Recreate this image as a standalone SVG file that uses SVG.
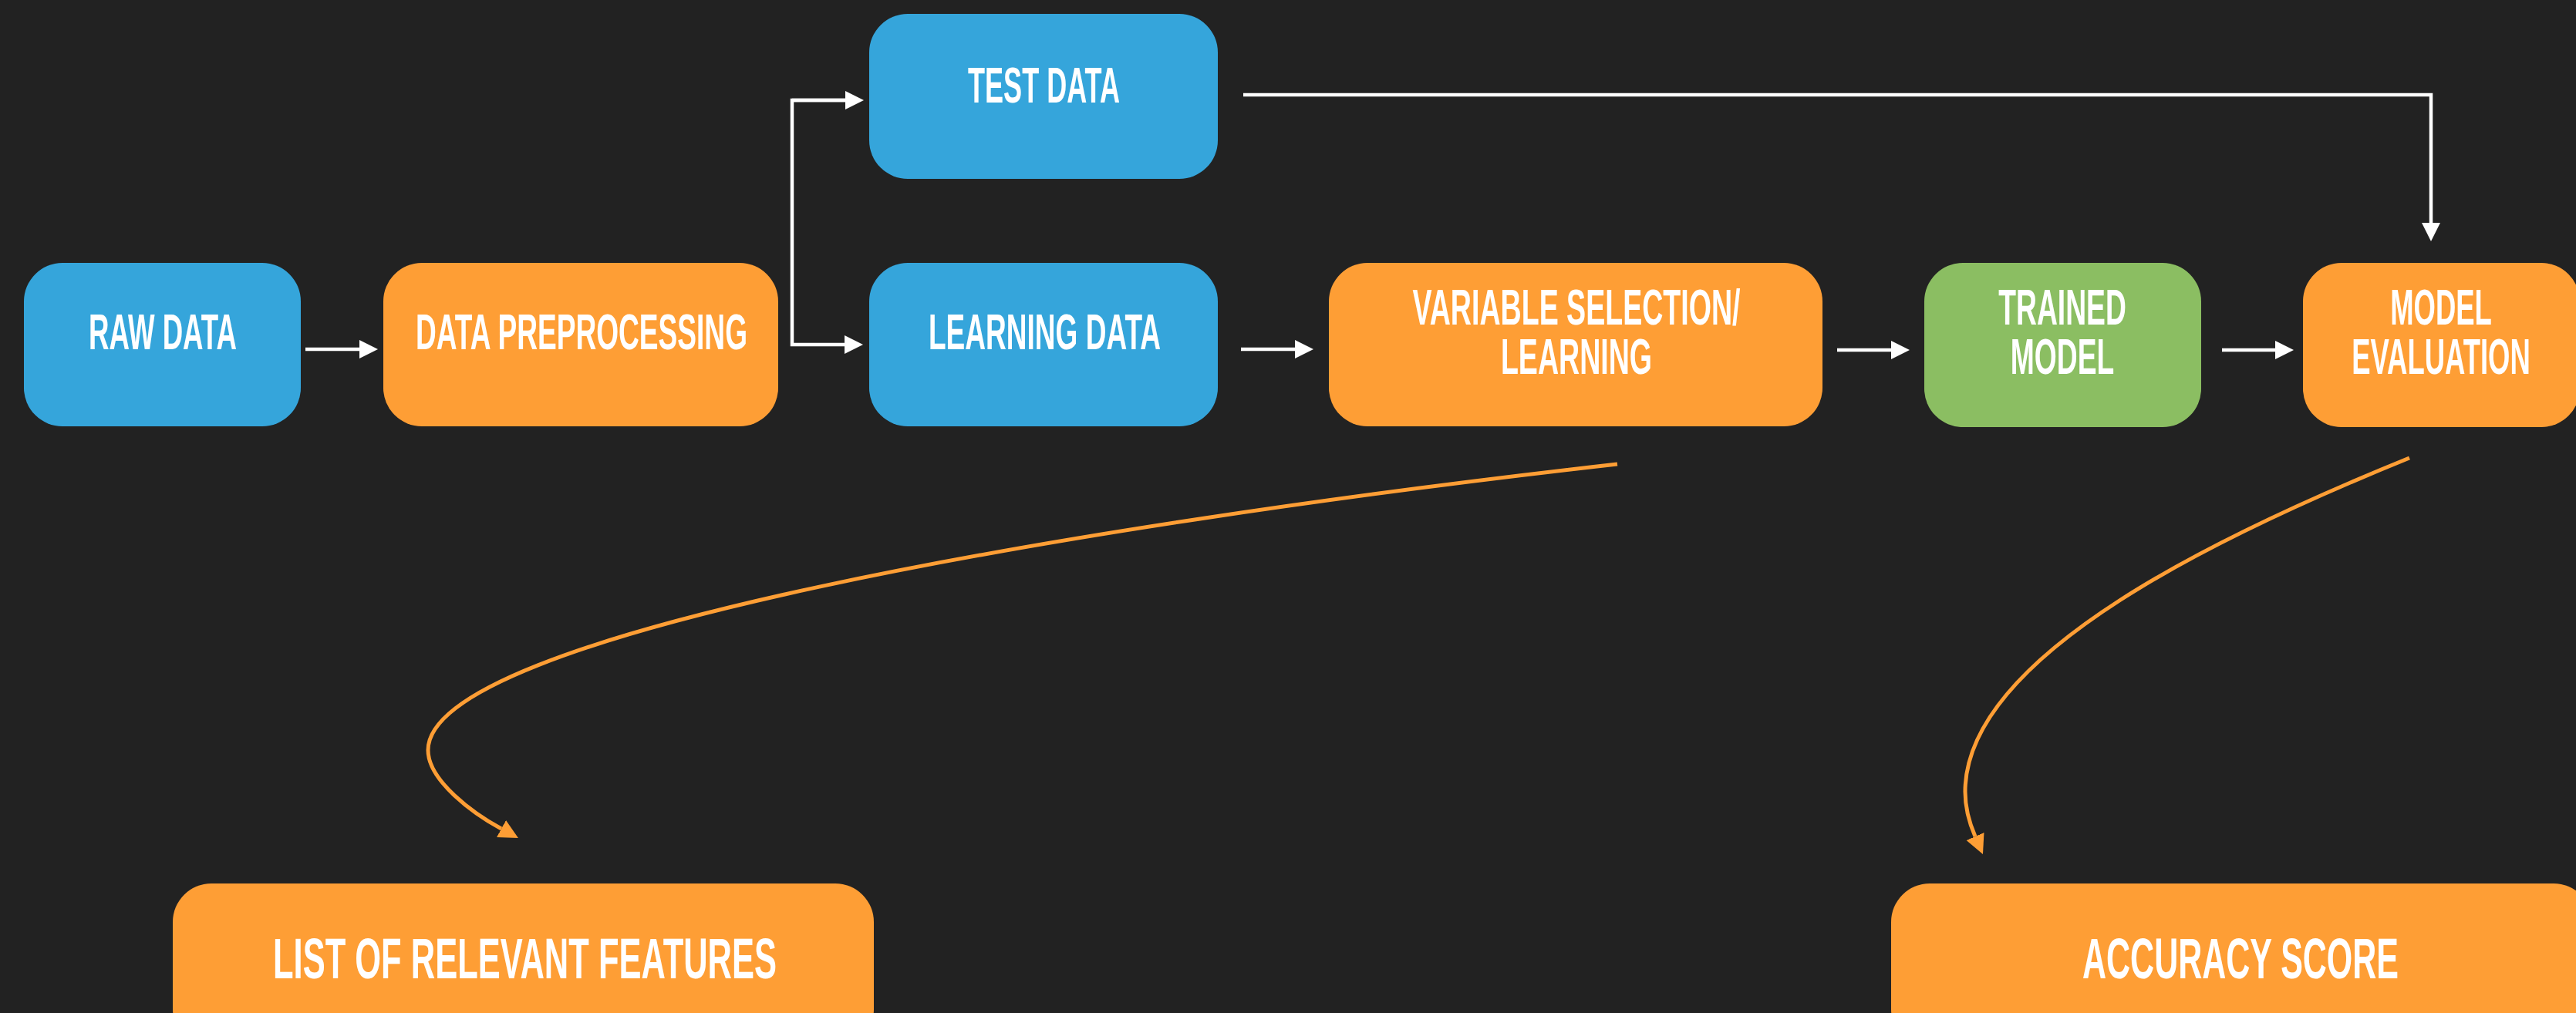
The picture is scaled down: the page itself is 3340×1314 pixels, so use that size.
<svg xmlns="http://www.w3.org/2000/svg" width="3340" height="1314" viewBox="0 0 3340 1314">
  <defs>
    <style>
      .bg { fill: #222222; }
      .blue { fill: #35A5DB; }
      .orange { fill: #FE9E35; }
      .green { fill: #8BBE62; }
      .lbl { font-family: "Liberation Sans", "DejaVu Sans Condensed", sans-serif; font-weight: bold; font-size: 64px; fill: #FFFFFF; }
      .lbl-lg { font-size: 74px; }
      .mid { text-anchor: middle; }
      .wire { fill: none; stroke: #FFFFFF; stroke-width: 4.5; stroke-linecap: butt; stroke-linejoin: miter; }
      .curve { fill: none; stroke: #FE9E35; stroke-width: 5; stroke-linecap: butt; }
    </style>
    <marker id="headWhite" markerUnits="userSpaceOnUse" markerWidth="26" markerHeight="26" viewBox="0 -13 26 26" refX="0" refY="0" orient="auto">
      <path d="M0,-12 L24,0 L0,12 Z" fill="#FFFFFF"/>
    </marker>
    <marker id="headOrange" markerUnits="userSpaceOnUse" markerWidth="27" markerHeight="27" viewBox="0 -13.5 27 27" refX="0" refY="0" orient="auto">
      <path d="M0,-12.5 L25,0 L0,12.5 Z" fill="#FE9E35"/>
    </marker>
  </defs>

  <rect class="bg" x="0" y="0" width="3340" height="1314"/>

  <!-- connectors -->
  <g id="connectors">
    <line class="wire" x1="396" y1="453" x2="466" y2="453" marker-end="url(#headWhite)"/>
    <polyline class="wire" points="1096,130 1027,130 1027,447 1095,447" marker-end="url(#headWhite)"/>
    <path class="wire" d="M1027,130 L1096,130" marker-end="url(#headWhite)"/>
    <line class="wire" x1="1609" y1="453" x2="1679" y2="453" marker-end="url(#headWhite)"/>
    <line class="wire" x1="2382" y1="454" x2="2452" y2="454" marker-end="url(#headWhite)"/>
    <line class="wire" x1="2881" y1="454" x2="2950" y2="454" marker-end="url(#headWhite)"/>
    <polyline class="wire" points="1612,123 3152,123 3152,289" marker-end="url(#headWhite)"/>
    <path class="curve" d="M2097,602 C1397,681 555,823 555,973 C555,1013 614.8,1055.8 650,1075" marker-end="url(#headOrange)"/>
    <path class="curve" d="M3124,594 C2892.5,688 2548,847 2548,1027 C2548,1047 2553,1066.6 2561,1085" marker-end="url(#headOrange)"/>
  </g>

  <!-- nodes: labels are condensed horizontally -->
  <g id="raw-data">
    <rect class="blue" x="31" y="341" width="359" height="212" rx="50" ry="50"/>
    <text class="lbl" transform="translate(115,453) scale(0.57,1)" textLength="336.8" lengthAdjust="spacingAndGlyphs">RAW DATA</text>
  </g>
  <g id="data-preprocessing">
    <rect class="orange" x="497" y="341" width="512" height="212" rx="50" ry="50"/>
    <text class="lbl" transform="translate(539,453) scale(0.57,1)" textLength="754.4" lengthAdjust="spacingAndGlyphs">DATA PREPROCESSING</text>
  </g>
  <g id="test-data">
    <rect class="blue" x="1127" y="18" width="452" height="214" rx="50" ry="50"/>
    <text class="lbl" transform="translate(1255,133) scale(0.57,1)" textLength="345.6" lengthAdjust="spacingAndGlyphs">TEST DATA</text>
  </g>
  <g id="learning-data">
    <rect class="blue" x="1127" y="341" width="452" height="212" rx="50" ry="50"/>
    <text class="lbl" transform="translate(1204,453) scale(0.57,1)" textLength="528.1" lengthAdjust="spacingAndGlyphs">LEARNING DATA</text>
  </g>
  <g id="variable-selection">
    <rect class="orange" x="1723" y="341" width="640" height="212" rx="50" ry="50"/>
    <text class="lbl mid" transform="translate(2044,421) scale(0.587,1)"><tspan x="0" y="0">VARIABLE SELECTION/</tspan><tspan x="0" y="64">LEARNING</tspan></text>
  </g>
  <g id="trained-model">
    <rect class="green" x="2495" y="341" width="359" height="213" rx="50" ry="50"/>
    <text class="lbl mid" transform="translate(2674,421) scale(0.582,1)"><tspan x="0" y="0">TRAINED</tspan><tspan x="0" y="64">MODEL</tspan></text>
  </g>
  <g id="model-evaluation">
    <rect class="orange" x="2986" y="341" width="359" height="213" rx="50" ry="50"/>
    <text class="lbl mid" transform="translate(3165,421) scale(0.57,1)"><tspan x="0" y="0">MODEL</tspan><tspan x="0" y="64">EVALUATION</tspan></text>
  </g>
  <g id="relevant-features">
    <rect class="orange" x="224" y="1146" width="909" height="213" rx="50" ry="50"/>
    <text class="lbl lbl-lg" transform="translate(354,1269) scale(0.57,1)" textLength="1145.6" lengthAdjust="spacingAndGlyphs">LIST OF RELEVANT FEATURES</text>
  </g>
  <g id="accuracy-score">
    <rect class="orange" x="2452" y="1146" width="909" height="213" rx="50" ry="50"/>
    <text class="lbl lbl-lg" transform="translate(2700,1269) scale(0.57,1)" textLength="719.3" lengthAdjust="spacingAndGlyphs">ACCURACY SCORE</text>
  </g>
</svg>
